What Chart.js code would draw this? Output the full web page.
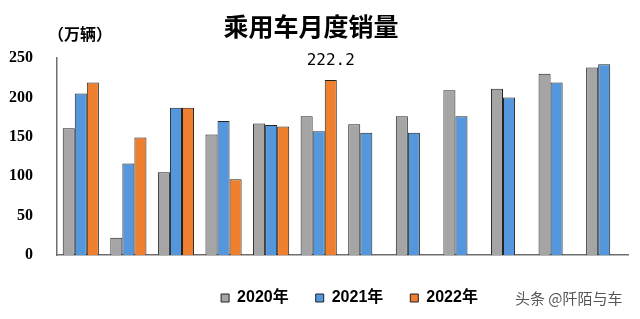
<!DOCTYPE html>
<html lang="zh-CN">
<head>
  <meta charset="UTF-8">
  <title>乘用车月度销量</title>
  <script src="https://cdn.jsdelivr.net/npm/chart.js"></script>
  <style>
    html, body { margin: 0; padding: 0; background: #fff; }
    #wrap { width: 640px; height: 319px; }
  </style>
</head>
<body>
  <div id="wrap"><canvas id="c"></canvas></div>
  <script>
    // 月份和各年销量（万辆）
    const months = ["1月", "2月", "3月", "4月", "5月", "6月", "7月", "8月", "9月", "10月", "11月", "12月"];
    const sales2020 = [161, 22, 105, 153, 167, 176, 166, 176, 209, 211, 230, 238];
    const sales2021 = [205, 116, 187, 170, 165, 157, 155, 155, 176, 200, 219, 242];
    const sales2022 = [219, 149, 187, 96, 163, 222.2, null, null, null, null, null, null];
    const yTicks = [0, 50, 100, 150, 200, 250];

    const cjk = '"Noto Sans CJK SC", sans-serif';

    // 标题、单位、数值标注、署名
    const decor = {
      id: "decor",
      afterLayout(chart) {
        // 图例整体略向右
        chart.legend.left += 7;
        chart.legend.right += 7;
      },
      afterDraw(chart) {
        const ctx = chart.ctx;
        ctx.save();
        ctx.fillStyle = "#000";
        ctx.textBaseline = "middle";

        ctx.textAlign = "center";
        ctx.font = "bold 25px " + cjk;
        ctx.fillText("乘用车月度销量", 311, 26);

        ctx.textAlign = "left";
        ctx.font = "bold 16px " + cjk;
        ctx.fillText("（万辆）", 48, 34);

        // 6月 2022 的标注
        const bar = chart.getDatasetMeta(2).data[5];
        ctx.textAlign = "center";
        ctx.font = '16px "DejaVu Sans Mono", monospace';
        ctx.fillText("222.2", bar.x, bar.y - 19);

        ctx.textAlign = "left";
        ctx.fillStyle = "#555";
        ctx.font = "15px " + cjk;
        ctx.fillText("头条 @阡陌与车", 515, 298);
        ctx.restore();
      }
    };

    new Chart(document.getElementById("c"), {
      type: "bar",
      data: {
        labels: months,
        datasets: [
          { label: "2020年", data: sales2020, backgroundColor: "#a5a5a5" },
          { label: "2021年", data: sales2021, backgroundColor: "#5597dc" },
          { label: "2022年", data: sales2022, backgroundColor: "#ee7f2e" }
        ].map(d => Object.assign(d, { borderColor: "#222", borderWidth: 1, categoryPercentage: 0.76, barPercentage: 1 }))
      },
      options: {
        responsive: true,
        maintainAspectRatio: false,
        animation: false,
        layout: { padding: { top: 58, left: 0, right: 12, bottom: 3 } },
        plugins: {
          title: { display: false },
          tooltip: { enabled: false },
          legend: {
            position: "bottom",
            fullSize: false,
            labels: {
              color: "#000",
              boxWidth: 8,
              boxHeight: 8,
              padding: 27,
              font: { family: '"Liberation Sans", ' + cjk, size: 16, weight: "bold" }
            }
          }
        },
        scales: {
          x: {
            grid: { display: false, drawTicks: false },
            border: { display: true, color: "#6e6e6e", width: 1.5 },
            ticks: {
              color: "#000",
              padding: 13,
              maxRotation: 0,
              font: { family: '"Liberation Serif", ' + cjk, size: 16, weight: "bold" }
            },
            afterFit(scale) { scale.height = 8; }
          },
          y: {
            min: 0,
            max: 250,
            afterBuildTicks(scale) { scale.ticks = yTicks.map(v => ({ value: v })); },
            grid: { display: false, drawTicks: false },
            border: { display: true, color: "#6e6e6e", width: 1.5 },
            ticks: {
              color: "#000",
              padding: 24,
              font: { family: '"Liberation Serif", serif', size: 16, weight: "bold" }
            },
            afterFit(scale) { scale.width = 57; }
          }
        }
      },
      plugins: [decor]
    });
  </script>
</body>
</html>
